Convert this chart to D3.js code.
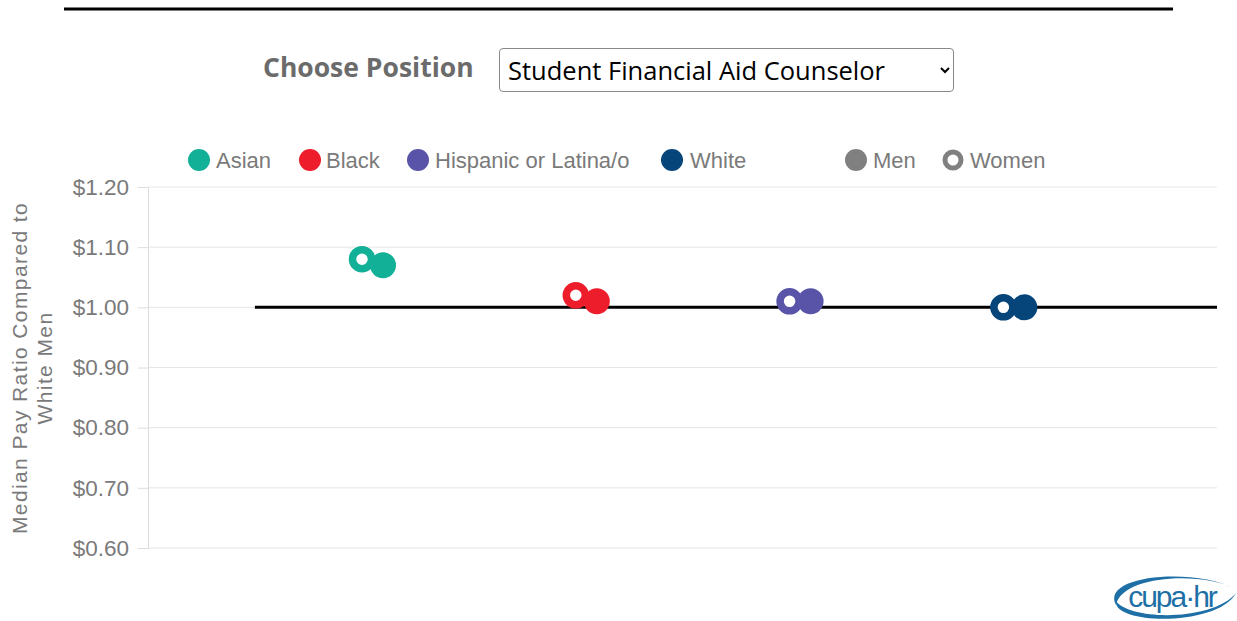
<!DOCTYPE html>
<html>
<head>
<meta charset="utf-8">
<script src="https://cdn.jsdelivr.net/npm/d3@7"></script>
<style>
  body { margin: 0; background: #fff; font-family: "Liberation Sans", Arial, sans-serif; }
  #wrap { position: relative; width: 1237px; height: 621px; overflow: hidden; }
  #chart { position: absolute; left: 0; top: 0; }
  #pick-label {
    position: absolute; left: 263px; top: 49px;
    font-family: "Open Sans", sans-serif;
    font-weight: bold; font-size: 26.5px; color: #6b6b6b;
  }
  #pick {
    position: absolute; left: 499px; top: 48px; width: 455px; height: 44px;
    font-family: "Open Sans", sans-serif;
    font-size: 25.5px; color: #000; background: #fff;
    border: 1px solid #8a8a8a; border-radius: 4px; padding: 0 4px;
  }
</style>
</head>
<body>
<div id="wrap">
  <div id="chart"></div>
  <div id="pick-label">Choose Position</div>
  <select id="pick"><option>Student Financial Aid Counselor</option></select>
</div>
<script>
// data
const categories = ["Asian", "Black", "Hispanic or Latina/o", "White"];
const colors = ["#12b097", "#ee1d2b", "#5954a8", "#05457a"];
const womenValues = [1.08, 1.02, 1.01, 1.00];
const menValues = [1.07, 1.01, 1.01, 1.00];
const yTicks = [0.6, 0.7, 0.8, 0.9, 1.0, 1.1, 1.2];
const refValue = 1.0;

const width = 1237, height = 621;
const svg = d3.select("#chart").append("svg")
  .attr("width", width).attr("height", height);

// top rule
svg.append("line")
  .attr("x1", 64).attr("x2", 1173).attr("y1", 9).attr("y2", 9)
  .attr("stroke", "#000").attr("stroke-width", 3);

const x = d3.scaleLinear().domain([-0.05, 4.95]).range([148, 1217]);
const y = d3.scaleLinear().domain([0.6, 1.2]).range([548, 187]);

// gridlines
svg.append("g").selectAll("line").data(yTicks).join("line")
  .attr("x1", 148).attr("x2", 1217)
  .attr("y1", d => y(d)).attr("y2", d => y(d))
  .attr("stroke", "#e6e6e6").attr("stroke-width", 1);

// y axis
const yAxis = svg.append("g")
  .attr("transform", "translate(148,0)")
  .call(d3.axisLeft(y).tickValues(yTicks).tickFormat(d3.format("$.2f")).tickSize(10).tickPadding(9));
yAxis.select(".domain").attr("stroke", "#dcdcdc");
yAxis.selectAll(".tick line").attr("stroke", "#dcdcdc");
yAxis.selectAll(".tick text")
  .attr("fill", "#7a7a7a").style("font-size", "22.5px")
  .style("font-family", "'Liberation Sans', Arial, sans-serif");

// y title
const yt = svg.append("text")
  .attr("transform", "translate(27,368) rotate(-90)")
  .attr("text-anchor", "middle")
  .attr("fill", "#7a7a7a")
  .style("font-size", "21px")
  .style("letter-spacing", "1.4px");
yt.append("tspan").attr("x", 0).attr("dy", 0).text("Median Pay Ratio Compared to");
yt.append("tspan").attr("x", 0).attr("dy", 25).text("White Men");

// reference line
svg.append("line")
  .attr("x1", x(0.45)).attr("x2", x(4.95))
  .attr("y1", y(refValue)).attr("y2", y(refValue))
  .attr("stroke", "#000").attr("stroke-width", 3);

// points
const pts = svg.append("g");
categories.forEach((c, i) => {
  pts.append("circle")
    .attr("cx", x(i + 1) - 10.5).attr("cy", y(womenValues[i]))
    .attr("r", 9.5).attr("fill", "#fff")
    .attr("stroke", colors[i]).attr("stroke-width", 7.5);
  pts.append("circle")
    .attr("cx", x(i + 1) + 10.5).attr("cy", y(menValues[i]))
    .attr("r", 13).attr("fill", colors[i]);
});

// legend
const legendItems = [
  { label: "Asian", color: colors[0], cx: 199, tx: 216 },
  { label: "Black", color: colors[1], cx: 310, tx: 326 },
  { label: "Hispanic or Latina/o", color: colors[2], cx: 418, tx: 435 },
  { label: "White", color: colors[3], cx: 672, tx: 690 },
  { label: "Men", color: "#808080", cx: 856, tx: 873 },
  { label: "Women", color: "#808080", cx: 953, tx: 970, ring: true }
];
const lg = svg.append("g").selectAll("g").data(legendItems).join("g");
lg.append("circle")
  .attr("cx", d => d.cx).attr("cy", 160)
  .attr("r", d => d.ring ? 8 : 11)
  .attr("fill", d => d.ring ? "#fff" : d.color)
  .attr("stroke", d => d.ring ? d.color : "none")
  .attr("stroke-width", d => d.ring ? 5 : 0);
lg.append("text")
  .attr("x", d => d.tx).attr("y", 168)
  .attr("fill", "#7a7a7a").style("font-size", "22px")
  .text(d => d.label);

// logo
const logo = svg.append("g").attr("transform", "translate(1174,597)");
logo.append("path")
  .attr("d", "M-58,8 C-74,-22 20,-30 62,-8 C28,-26 -52,-22 -58,8 Z")
  .attr("fill", "#1d6fa6");
logo.append("path")
  .attr("d", "M-58,4 C-62,28 44,30 62,-4 C40,24 -44,24 -58,4 Z")
  .attr("fill", "#1d6fa6");
logo.append("text")
  .attr("x", -2).attr("y", 10).attr("text-anchor", "middle")
  .attr("fill", "#1d6fa6")
  .style("font-size", "30px").style("font-family", "'Liberation Sans', Arial, sans-serif")
  .style("letter-spacing", "-2px")
  .text("cupa·hr");
</script>
</body>
</html>
